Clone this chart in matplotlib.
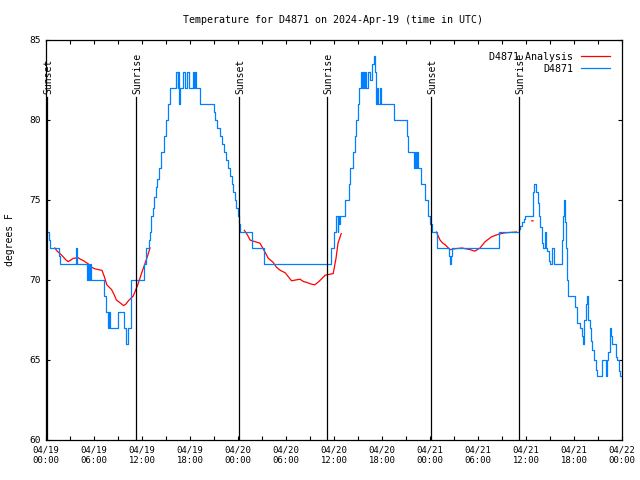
import numpy as np
import matplotlib
matplotlib.use("Agg")
import matplotlib.pyplot as plt

# ---------------- data (hours since 2024-04-19 00:00 UTC) ----------------
obs_hours = [0.15, 0.35, 0.5, 1.6, 1.8, 3.75, 3.85, 5.1, 5.25, 5.35, 5.45, 5.6,
             7.2, 7.5, 7.8, 7.9, 8.0, 9.0, 9.8, 9.95, 10.3, 10.6, 12.25, 12.5,
             12.85, 13.0, 13.15, 13.4, 13.55, 13.7, 13.9, 14.1, 14.4, 14.7, 15.0,
             15.3, 15.5, 16.25, 16.45, 16.55, 16.65, 16.8, 17.15, 17.35, 17.65,
             17.85, 18.4, 18.5, 18.6, 18.75, 19.3, 20.95, 21.1, 21.4, 21.7, 21.95,
             22.2, 22.45, 22.7, 22.95, 23.2, 23.4, 23.6, 23.8, 23.95, 24.1, 24.3,
             25.7, 27.3, 35.6, 36.0, 36.3, 36.45, 36.55, 36.65, 36.75, 37.35,
             37.9, 38.05, 38.35, 38.6, 38.8, 38.95, 39.15, 39.35, 39.55, 39.65,
             39.8, 39.9, 40.05, 40.2, 40.5, 40.7, 40.95, 41.1, 41.2, 41.35, 41.55,
             41.7, 41.85, 43.5, 45.1, 45.3, 46.0, 46.1, 46.25, 46.35, 46.5, 46.9,
             47.4, 47.75, 48.0, 48.2, 48.9, 50.35, 50.45, 50.6, 50.7, 56.6, 59.1,
             59.3, 59.5, 59.7, 59.9, 60.9, 61.05, 61.3, 61.45, 61.6, 61.75, 61.95,
             62.1, 62.35, 62.5, 62.65, 62.85, 63.0, 63.2, 63.5, 64.5, 64.6, 64.75,
             64.85, 65.0, 65.15, 65.3, 65.4, 66.1, 66.4, 66.7, 66.95, 67.1, 67.25,
             67.45, 67.6, 67.7, 67.8, 68.0, 68.1, 68.3, 68.45, 68.75, 68.9, 69.45,
             69.95, 70.15, 70.3, 70.45, 70.6, 70.75, 71.25, 71.4, 71.6, 71.8, 72.0]
obs_temps = [73.0, 72.5, 72.0, 71.5, 71.0, 72.0, 71.0, 70.0, 71.0, 70.0, 71.0, 70.0,
             69.0, 68.0, 67.0, 68.0, 67.0, 68.0, 67.0, 66.0, 67.0, 70.0, 71.0, 72.0,
             72.5, 73.0, 74.0, 74.5, 75.2, 75.8, 76.3, 77.0, 78.0, 79.0, 80.0,
             81.0, 82.0, 83.0, 82.0, 83.0, 81.0, 82.0, 83.0, 82.0, 83.0,
             82.0, 83.0, 82.0, 83.0, 82.0, 81.0, 80.5, 80.0, 79.5, 79.0, 78.5,
             78.0, 77.5, 77.0, 76.5, 76.0, 75.5, 75.0, 74.5, 74.0, 73.5, 73.0,
             72.0, 71.0, 72.0, 73.0, 74.0, 73.0, 74.0, 73.5, 74.0, 75.0,
             76.0, 77.0, 78.0, 79.0, 80.0, 81.0, 82.0, 83.0, 82.0, 83.0,
             82.0, 83.0, 82.0, 83.0, 82.5, 83.5, 84.0, 83.0, 81.0, 82.0, 81.0,
             82.0, 81.0, 80.0, 79.0, 78.0, 77.0, 78.0, 77.0, 78.0, 77.0, 76.0,
             75.0, 74.0, 73.5, 73.0, 72.0, 71.5, 71.0, 71.5, 72.0, 73.0, 73.2,
             73.4, 73.6, 73.8, 74.0, 75.5, 76.0, 75.5, 74.8, 74.0, 73.3, 72.3,
             72.0, 73.0, 72.0, 71.8, 71.2, 71.0, 72.0, 71.0, 72.5, 74.0, 75.0,
             73.6, 72.0, 70.0, 69.0, 69.0, 68.3, 67.3, 67.0, 66.5, 66.0, 67.5,
             68.5, 69.0, 68.5, 67.5, 67.0, 66.2, 65.6, 65.0, 64.4, 64.0, 65.0,
             64.0, 65.0, 65.5, 67.0, 66.5, 66.0, 65.2, 65.0, 64.3, 64.0, 64.0]

ana_hours = [1.1, 1.4, 1.75, 2.15, 2.5, 2.8, 3.1, 3.4, 4.0, 4.3, 4.7, 5.3, 5.7, 6.1,
             7.0, 7.3, 7.6, 8.2, 8.5, 8.8, 9.2, 9.7, 10.0, 10.3, 10.9, 11.4, 12.0,
             12.6, 13.0, np.nan,
             24.8, 25.2, 25.5, 26.1, 26.75, 27.2, 27.8, 28.4, 28.8, 29.3, 29.9,
             30.3, 30.7, 31.2, 31.75, 32.2, 32.6, 33.1, 33.6, 34.1, 34.5, 34.9,
             35.4, 35.9, 36.25, 36.5, 36.9, np.nan,
             48.8, 49.25, 49.6, 49.9, 50.5, 51.1, 52.0, 52.5, 53.0, 53.6, 54.25,
             54.9, 55.7, 56.5, 57.4, 58.8, np.nan,
             60.72, 60.88]
ana_temps = [72.0, 71.8, 71.65, 71.45, 71.25, 71.15, 71.25, 71.35, 71.4, 71.3, 71.2,
             71.0, 70.8, 70.7, 70.6, 70.2, 69.7, 69.4, 69.1, 68.75, 68.6, 68.4, 68.5,
             68.7, 69.0, 69.6, 70.5, 71.35, 72.0, np.nan,
             73.1, 72.8, 72.5, 72.4, 72.3, 71.9, 71.35, 71.1, 70.8, 70.6, 70.45,
             70.2, 69.95, 70.0, 70.05, 69.9, 69.85, 69.75, 69.7, 69.9, 70.1, 70.3,
             70.35, 70.4, 71.35, 72.3, 72.9, np.nan,
             73.0, 72.5, 72.3, 72.2, 71.9, 71.95, 72.0, 71.95, 71.9, 71.8, 72.0,
             72.4, 72.7, 72.85, 72.95, 73.0, np.nan,
             73.7, 73.7]

sun_hours = [0.15, 11.25, 24.15, 35.17, 48.18, 59.17]
sun_labels = ["Sunset", "Sunrise", "Sunset", "Sunrise", "Sunset", "Sunrise"]

xtick_hours = list(range(0, 73, 6))
xtick_labels = ["04/19\n00:00", "04/19\n06:00", "04/19\n12:00", "04/19\n18:00",
                "04/20\n00:00", "04/20\n06:00", "04/20\n12:00", "04/20\n18:00",
                "04/21\n00:00", "04/21\n06:00", "04/21\n12:00", "04/21\n18:00",
                "04/22\n00:00"]
ytick_vals = [60, 65, 70, 75, 80, 85]

# ---------------- plot ----------------
mono = "DejaVu Sans Mono"
fig = plt.figure(figsize=(6.4, 4.8), dpi=100)
ax = fig.add_axes([46 / 640, 40 / 480, 576 / 640, 400 / 480])

ax.plot(ana_hours, ana_temps, color="#ff0000", lw=0.9, label="D4871 Analysis")
ax.plot(obs_hours, obs_temps, color="#0080ff", lw=0.9, drawstyle="steps-post",
        label="D4871")

for h, lab in zip(sun_hours, sun_labels):
    ax.plot([h, h], [60, 81.45], color="black", lw=0.9)
    ax.text(h + 0.12, 81.65, lab, rotation=90, ha="center", va="bottom",
            family=mono, fontsize=7)

ax.set_xlim(0, 72)
ax.set_ylim(60, 85)
ax.set_xticks(xtick_hours)
ax.set_xticklabels(xtick_labels, family=mono, fontsize=6.4)
ax.set_xticks(np.arange(3, 72, 6), minor=True)
ax.set_yticks(ytick_vals)
ax.set_yticklabels([str(v) for v in ytick_vals], family=mono, fontsize=6.8)
ax.tick_params(which="both", direction="in", top=True, right=True,
               length=3, width=0.8, pad=4)
for s in ax.spines.values():
    s.set_linewidth(0.9)

ax.set_ylabel("degrees F", family=mono, fontsize=7, labelpad=10)
fig.text(333 / 640, 1 - 20 / 480, "Temperature for D4871 on 2024-Apr-19 (time in UTC)",
         ha="center", va="center", family=mono, fontsize=7.2)

leg = ax.legend(loc="upper right", frameon=False, markerfirst=False,
                prop={"family": mono, "size": 7.2}, handlelength=2.9,
                borderaxespad=0.9, borderpad=0.3, labelspacing=0.2,
                handletextpad=0.8)

fig.savefig("out.png", dpi=100)
